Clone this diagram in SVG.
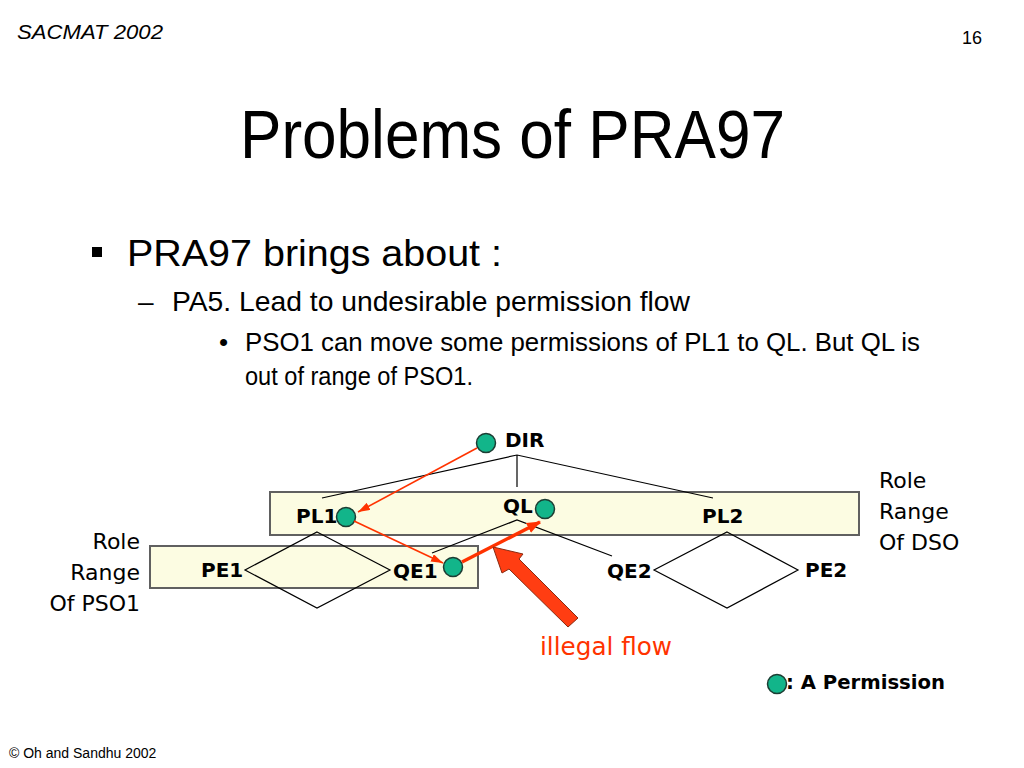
<svg xmlns="http://www.w3.org/2000/svg" width="1024" height="768" viewBox="0 0 1024 768">
<defs>
<style>
.hdr{font-family:"Liberation Sans",Arial,sans-serif;fill:#000}
.lbl{font-family:"DejaVu Sans",Verdana,sans-serif;font-weight:bold;font-size:20px;fill:#000}
.rng{font-family:"DejaVu Sans",Verdana,sans-serif;font-size:22px;fill:#000}
.box{fill:#fcfce2;stroke:#606060;stroke-width:2}
.dia{fill:none;stroke:#000;stroke-width:1.2}
.tree{fill:none;stroke:#000;stroke-width:1.2}
.perm{fill:#12b58a;stroke:#1c3d33;stroke-width:1.5}
.flow{fill:none;stroke:#ff3300;stroke-width:1.6}
.flowb{fill:none;stroke:#ff3300;stroke-width:3.5}
</style>
<marker id="ah" viewBox="0 0 12 8" refX="12" refY="4" markerWidth="12" markerHeight="8" markerUnits="userSpaceOnUse" orient="auto"><path d="M0,0 L12,4 L0,8 z" fill="#ff3300"/></marker>
<marker id="ahb" viewBox="0 0 14 11" refX="13" refY="5.5" markerWidth="14" markerHeight="11" markerUnits="userSpaceOnUse" orient="auto"><path d="M0,0 L14,5.5 L0,11 z" fill="#ff3300"/></marker>
</defs>
<rect width="1024" height="768" fill="#fff"/>
<g id="header">
<text class="hdr" x="17" y="39" font-size="20" font-style="italic" textLength="146" lengthAdjust="spacingAndGlyphs">SACMAT 2002</text>
<text class="hdr" x="962" y="44" font-size="19" fill="#222" textLength="20" lengthAdjust="spacingAndGlyphs">16</text>
<text class="hdr" x="240" y="158" font-size="68" textLength="545" lengthAdjust="spacingAndGlyphs">Problems of PRA97</text>
</g>
<g id="body">
<rect x="92" y="247" width="10" height="10" fill="#000"/>
<text class="hdr" x="127" y="266" font-size="37" textLength="375" lengthAdjust="spacingAndGlyphs">PRA97 brings about :</text>
<text class="hdr" x="138" y="311" font-size="28" fill="#3333cc">–</text>
<text class="hdr" x="172" y="311" font-size="28" fill="#3333cc" textLength="518" lengthAdjust="spacingAndGlyphs">PA5. Lead to undesirable permission flow</text>
<text class="hdr" x="219" y="351" font-size="26">•</text>
<text class="hdr" x="245" y="351" font-size="26" textLength="675" lengthAdjust="spacingAndGlyphs">PSO1 can move some permissions of PL1 to QL. But QL is</text>
<text class="hdr" x="245" y="385" font-size="26" textLength="228" lengthAdjust="spacingAndGlyphs">out of range of PSO1.</text>
</g>
<g id="range-DSO">
<rect class="box" x="270" y="492" width="589" height="43"/>
<text class="rng" x="879" y="488">Role</text>
<text class="rng" x="879" y="519">Range</text>
<text class="rng" x="879" y="550">Of DSO</text>
</g>
<g id="range-PSO1">
<rect class="box" x="150" y="546" width="328" height="42"/>
<text class="rng" x="140" y="549" text-anchor="end">Role</text>
<text class="rng" x="140" y="580" text-anchor="end">Range</text>
<text class="rng" x="140" y="611" text-anchor="end">Of PSO1</text>
</g>
<g id="connectors">
<polyline class="tree" points="322,498 517,455 713,498"/>
<line class="tree" x1="517" y1="455" x2="517" y2="487"/>
<polyline class="tree" points="432,553 517,520 612,556"/>
<polygon class="dia" points="317,532 390,570 317,608 245,570"/>
<polygon class="dia" points="727,532 798,570 727,608 654,570"/>
</g>
<g id="DIR">
<circle class="perm" cx="486" cy="443" r="9.5"/>
<text class="lbl" x="505" y="447">DIR</text>
</g>
<g id="PL1">
<text class="lbl" x="296" y="523">PL1</text>
<circle class="perm" cx="346" cy="517" r="9.5"/>
</g>
<g id="QL">
<text class="lbl" x="503" y="513">QL</text>
<circle class="perm" cx="545" cy="509" r="9.5"/>
</g>
<g id="PL2">
<text class="lbl" x="702" y="523">PL2</text>
</g>
<g id="PE1">
<text class="lbl" x="201" y="577">PE1</text>
</g>
<g id="QE1">
<text class="lbl" x="393" y="578">QE1</text>
<circle class="perm" cx="453" cy="567" r="9.5"/>
</g>
<g id="QE2">
<text class="lbl" x="607" y="578">QE2</text>
</g>
<g id="PE2">
<text class="lbl" x="805" y="577">PE2</text>
</g>
<g id="flows">
<line class="flow" x1="477" y1="448" x2="358" y2="512" marker-end="url(#ah)"/>
<line class="flow" x1="354" y1="521" x2="443" y2="563" marker-end="url(#ah)"/>
<line class="flowb" x1="462" y1="562" x2="540" y2="522" marker-end="url(#ahb)"/>
</g>
<g id="illegal-flow">
<polygon points="493,547 523,554 519,559 578,618 568,627 509,569 502,573" fill="#ff3d12" stroke="#8a2a10" stroke-width="1"/>
<text x="540" y="655" font-family="DejaVu Sans,Verdana,sans-serif" font-size="24" fill="#ff3300" textLength="132" lengthAdjust="spacingAndGlyphs">illegal flow</text>
</g>
<g id="legend">
<circle class="perm" cx="777" cy="684" r="9.5"/>
<text class="lbl" x="786" y="689" textLength="159" lengthAdjust="spacingAndGlyphs">: A Permission</text>
</g>
<text class="hdr" x="9" y="758" font-size="14">© Oh and Sandhu 2002</text>
</svg>
